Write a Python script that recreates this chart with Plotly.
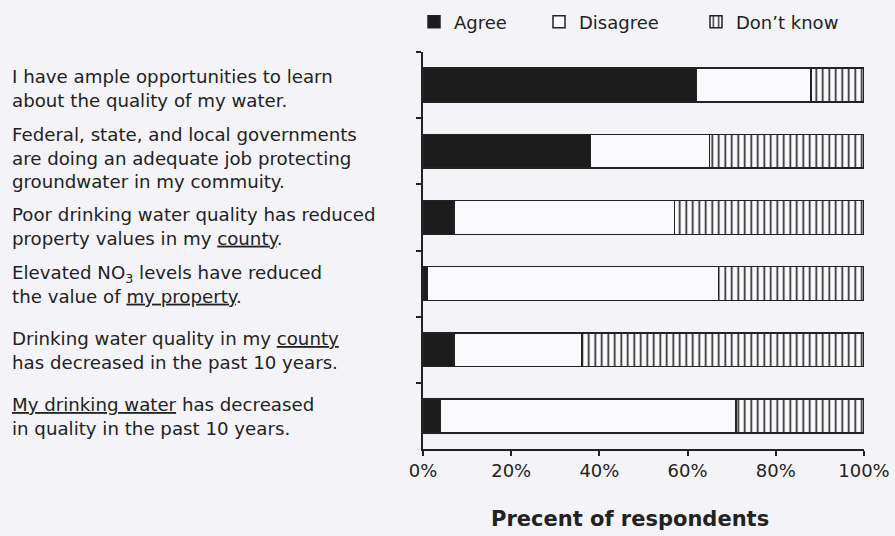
import plotly.graph_objects as go

# ---------------- data ----------------
statements = [
    "I have ample opportunities to learn<br>about the quality of my water.",
    "Federal, state, and local governments<br>are doing an adequate job protecting<br>groundwater in my commuity.",
    "Poor drinking water quality has reduced<br>property values in my <u>county</u>.",
    "Elevated NO<sub>3</sub> levels have reduced<br>the value of <u>my property</u>.",
    "Drinking water quality in my <u>county</u><br>has decreased in the past 10 years.",
    "<u>My drinking water</u> has decreased<br>in quality in the past 10 years.",
]
agree = [62, 38, 7, 1, 7, 4]
disagree = [26, 27, 50, 66, 29, 67]
dont_know = [12, 35, 43, 33, 64, 29]
x_ticks = [0, 20, 40, 60, 80, 100]
x_ticklabels = [f"{v}%" for v in x_ticks]
x_title = "Precent of respondents"

# ---------------- layout constants (px) ----------------
W, H = 895, 536
L, R, T, B = 423, 31, 52, 87
PW, PH = W - L - R, H - T - B
BG = "#f4f4f8"
INK = "#222222"
FONT = "DejaVu Sans"

fig = go.Figure()
line = dict(color=INK, width=1.5)
fig.add_trace(go.Bar(
    y=statements, x=agree, name="Agree", orientation="h",
    marker=dict(color="#1c1c1c", line=line), legendwidth=80,
))
fig.add_trace(go.Bar(
    y=statements, x=disagree, name="Disagree", orientation="h",
    marker=dict(color="#fafafc", line=line), legendwidth=112,
))
fig.add_trace(go.Bar(
    y=statements, x=dont_know, name="Don\u2019t know", orientation="h",
    marker=dict(color="#fafafc", line=line,
                pattern=dict(shape="|", size=6.5, solidity=0.25,
                             fgcolor=INK, bgcolor="#fafafc", fillmode="replace")),
))

# left-aligned statement labels
yshifts = [-3, -7, -9.5, -0.5, -0.5, -1]
for s, ys in zip(statements, yshifts):
    fig.add_annotation(
        x=(10 - L) / PW, xref="paper", y=s, yref="y",
        text=s, showarrow=False, xanchor="left", align="left",
        yanchor="middle", yshift=ys,
        font=dict(family=FONT, size=18.2, color=INK),
    )

# axis title
fig.add_annotation(
    x=(630 - L) / PW, xref="paper", y=(H - B - 519) / PH, yref="paper",
    text="<b>" + x_title + "</b>", showarrow=False,
    xanchor="center", yanchor="middle",
    font=dict(family=FONT, size=21, color=INK),
)

fig.update_layout(
    template="none",
    width=W, height=H, autosize=False,
    margin=dict(l=L, r=R, t=T, b=B, pad=0, autoexpand=False),
    paper_bgcolor=BG, plot_bgcolor=BG,
    barmode="stack", bargap=0.49,
    font=dict(family=FONT, size=18, color=INK),
    showlegend=True,
    legend=dict(
        orientation="h", xref="container", x=414 / W, xanchor="left",
        yref="container", y=1 - 22 / H, yanchor="middle",
        font=dict(family=FONT, size=18, color=INK),
        bgcolor="rgba(0,0,0,0)", borderwidth=0, traceorder="normal",
    ),
)
fig.update_xaxes(
    range=[0, 100], tickmode="array", tickvals=x_ticks, ticktext=x_ticklabels,
    automargin=False,
    showgrid=False, zeroline=False, showline=True, linecolor=INK, linewidth=1.5,
    ticks="outside", ticklen=5, tickwidth=1.5, tickcolor=INK,
    tickfont=dict(family=FONT, size=18, color=INK),
)
fig.update_yaxes(
    type="category", autorange="reversed", tickson="boundaries",
    automargin=False,
    showticklabels=False, showgrid=False, zeroline=False,
    showline=True, linecolor=INK, linewidth=1.5,
    ticks="outside", ticklen=5, tickwidth=1.5, tickcolor=INK,
)

fig.write_html(
    "out.html",
    config={"displayModeBar": False},
    post_script="document.body.style.margin='0';document.body.style.background='" + BG + "';",
)
